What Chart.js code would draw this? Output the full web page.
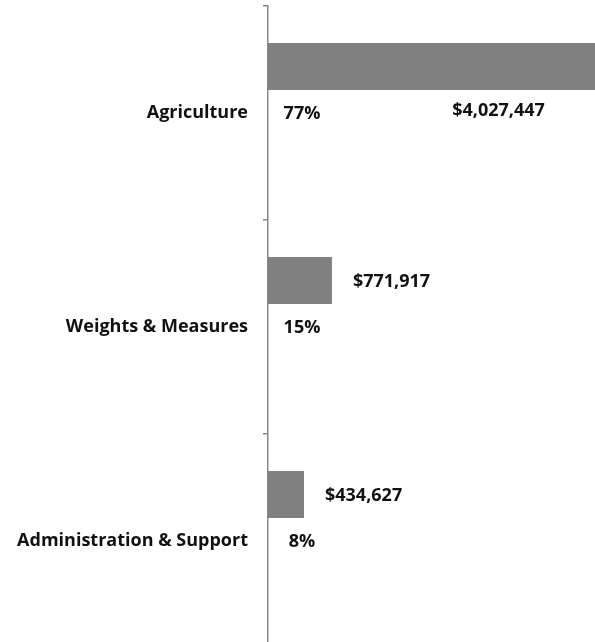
<!DOCTYPE html>
<html><head><meta charset="utf-8">
<script src="https://cdn.jsdelivr.net/npm/chart.js@4/dist/chart.umd.min.js"></script>
<style>
html,body{margin:0;padding:0;overflow:hidden;background:#fff;width:595px;height:642px;}
#c{position:absolute;left:0;top:0;}
</style></head><body>
<canvas id="c" width="620" height="660"></canvas>
<script>
const categories = ["Agriculture", "Weights & Measures", "Administration & Support"];
const amounts = [4027447, 771917, 434627];
const shares = ["77%", "15%", "8%"];
const spacer = [0, 0, 0];

const FONT = "'Open Sans', sans-serif";
const FSIZE = 18;

const labelPlugin = {
  id: 'labels',
  afterDatasetsDraw(chart) {
    const ctx = chart.ctx;
    const meta0 = chart.getDatasetMeta(0);
    const area = chart.chartArea;
    const yScale = chart.scales.y;
    ctx.save();
    ctx.font = "bold " + FSIZE + "px " + FONT;
    ctx.fillStyle = '#111';
    ctx.textBaseline = 'middle';
    meta0.data.forEach((bar, i) => {
      const txt = '$' + amounts[i].toLocaleString('en-US');
      if (bar.x > 595) {
        ctx.textAlign = 'center';
        ctx.fillText(txt, bar.x - 103, bar.y + bar.height / 2 + 21);
      } else {
        ctx.textAlign = 'left';
        ctx.fillText(txt, bar.x + 21, bar.y + 1);
      }
      ctx.textAlign = 'center';
      ctx.fillText(shares[i], area.left + 34, yScale.getPixelForValue(i) + 1);
    });
    ctx.restore();
  }
};

new Chart(document.getElementById('c'), {
  type: 'bar',
  data: {
    labels: categories,
    datasets: [
      { label: 'Amount', data: amounts, backgroundColor: '#808080', borderWidth: 0,
        categoryPercentage: 0.869, barPercentage: 0.505 },
      { label: 'Share', data: spacer, backgroundColor: 'rgba(0,0,0,0)', borderWidth: 0,
        categoryPercentage: 0.869, barPercentage: 0.505 }
    ]
  },
  options: {
    indexAxis: 'y',
    responsive: false,
    maintainAspectRatio: false,
    animation: false,
    layout: { padding: { top: 6, bottom: 12, left: 0, right: 0 } },
    plugins: { legend: { display: false }, tooltip: { enabled: false } },
    scales: {
      x: { display: false, min: 0, max: 4250000 },
      y: {
        offset: true,
        afterFit(s) { s.width = 268; s.paddingTop = 0; s.paddingBottom = 0; },
        border: { display: true, color: '#868686', width: 1.5 },
        grid: { display: true, offset: true, drawOnChartArea: false, drawTicks: true, tickLength: 5, color: '#868686', lineWidth: 1.5 },
        ticks: { color: '#111', padding: 15, font: { family: FONT, size: FSIZE, weight: 'bold' } }
      }
    }
  },
  plugins: [labelPlugin]
});
</script>
</body></html>
